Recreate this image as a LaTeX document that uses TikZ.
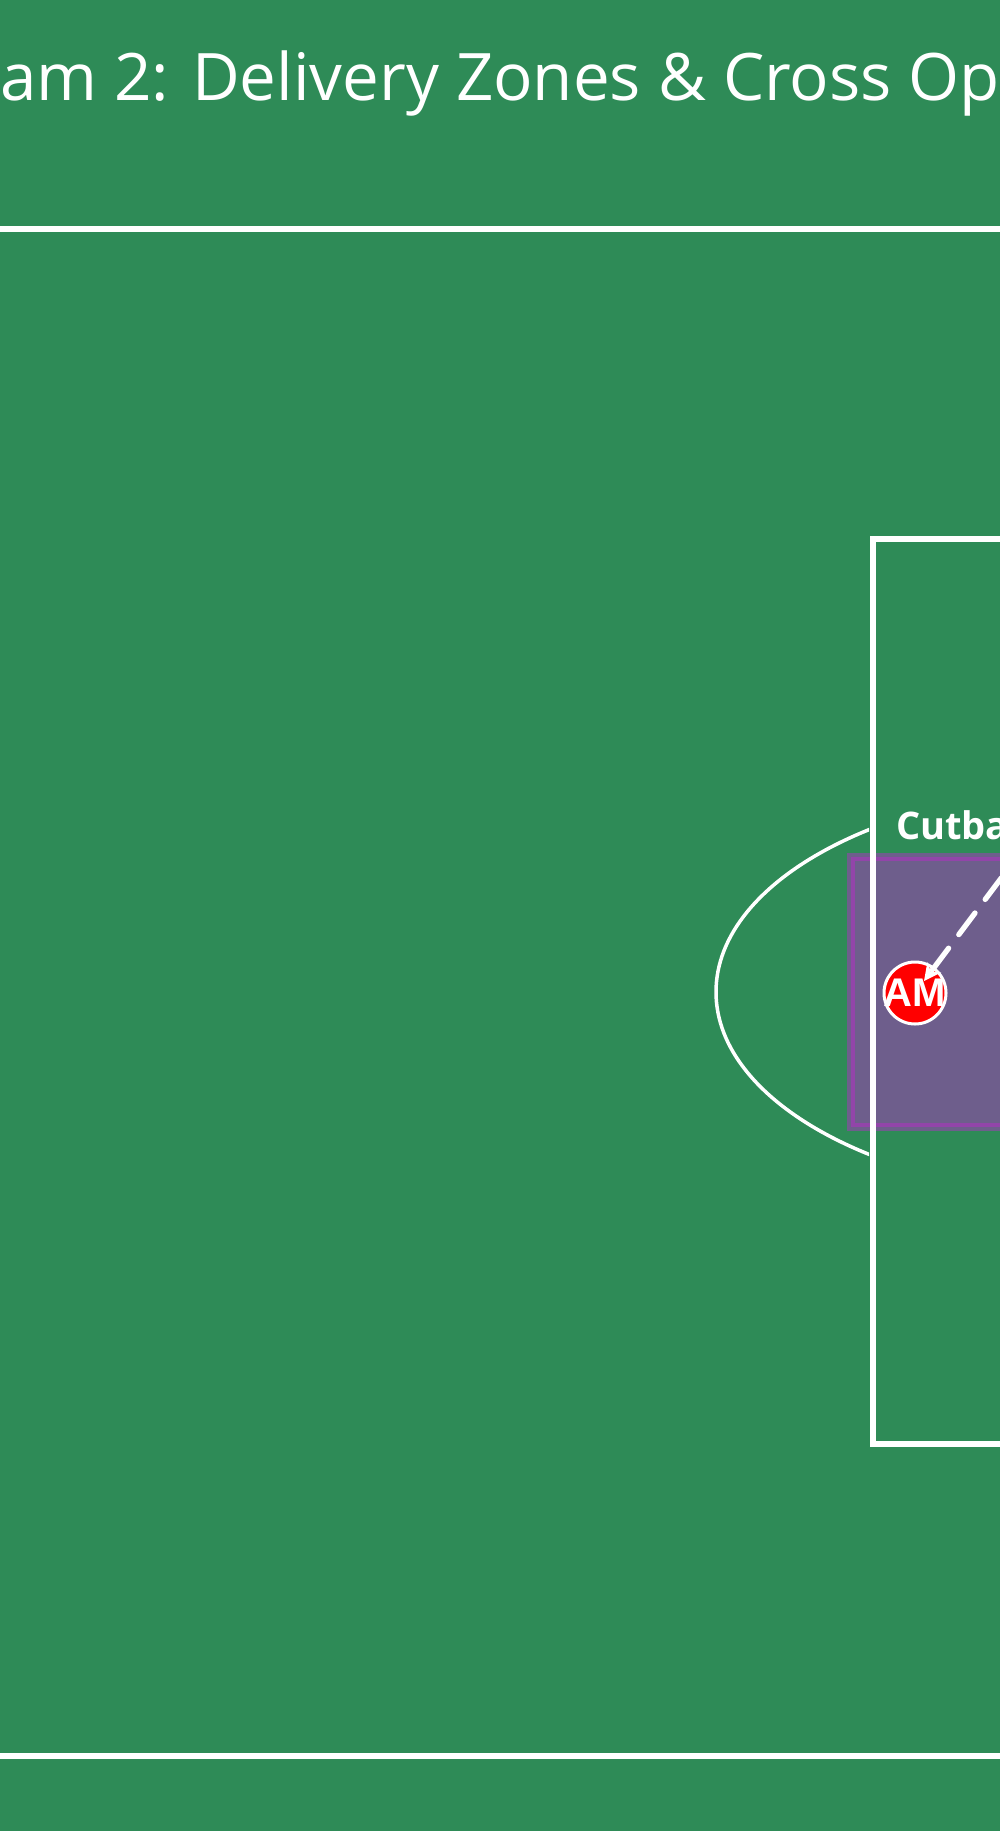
\documentclass[tikz,border=0pt]{standalone}
\usepackage{fontspec}
\setmainfont{Open Sans}
\newfontfamily\amfont{Liberation Sans}
\usetikzlibrary{arrows.meta}
\definecolor{pitch}{HTML}{2E8B57}
\definecolor{zone}{RGB}{190,40,205}
\begin{document}
\begin{tikzpicture}[x=1pt, y=-1pt]
\pgfmathsetmacro{\rx}{393}
\pgfmathsetmacro{\ry}{205}
\useasboundingbox (0,0) rectangle (1000,1831);
\fill[pitch] (0,0) rectangle (1000,1831);
\clip (0,0) rectangle (1000,1831);
\node[anchor=base west, inner sep=0, text=white, font=\fontsize{65.5}{72}\selectfont] (title) at (0,100.5) {am 2: Delivery Zones \& Cross Op};
% cutback zone
\draw[zone, line width=8pt, draw opacity=0.45, fill=zone, fill opacity=0.45] (851,857) rectangle (1020,1127);
% touchlines and box
\draw[white, line width=6pt] (-10,229) -- (1010,229);
\draw[white, line width=6pt] (-10,1756) -- (1010,1756);
\draw[white, line width=6pt] (1010,539) -- (873,539) -- (873,1444) -- (1010,1444);
\begin{scope}
\clip (0,0) rectangle (869,1831);
\draw[white, line width=3.5pt] (1109,992) ellipse [x radius=\rx, y radius=\ry];
\end{scope}
\node[anchor=base west, inner sep=0, text=white, font=\bfseries\fontsize{38}{44}\selectfont] (cutlbl) at (896,839) {Cutba};
\node[circle, draw=white, line width=3pt, fill=red, minimum size=62pt, inner sep=0, text=white, font=\amfont\bfseries\fontsize{40}{40}\selectfont] (am) at (915,993) {\makebox[0pt]{AM}};
\coordinate (src) at (1107,737);
\draw[white, line width=5.3pt, line cap=round, dash pattern=on 27pt off 17pt, -{Stealth[length=17pt, width=17pt]}, shorten >=15pt] (src) -- (am.center);
\end{tikzpicture}
\end{document}
